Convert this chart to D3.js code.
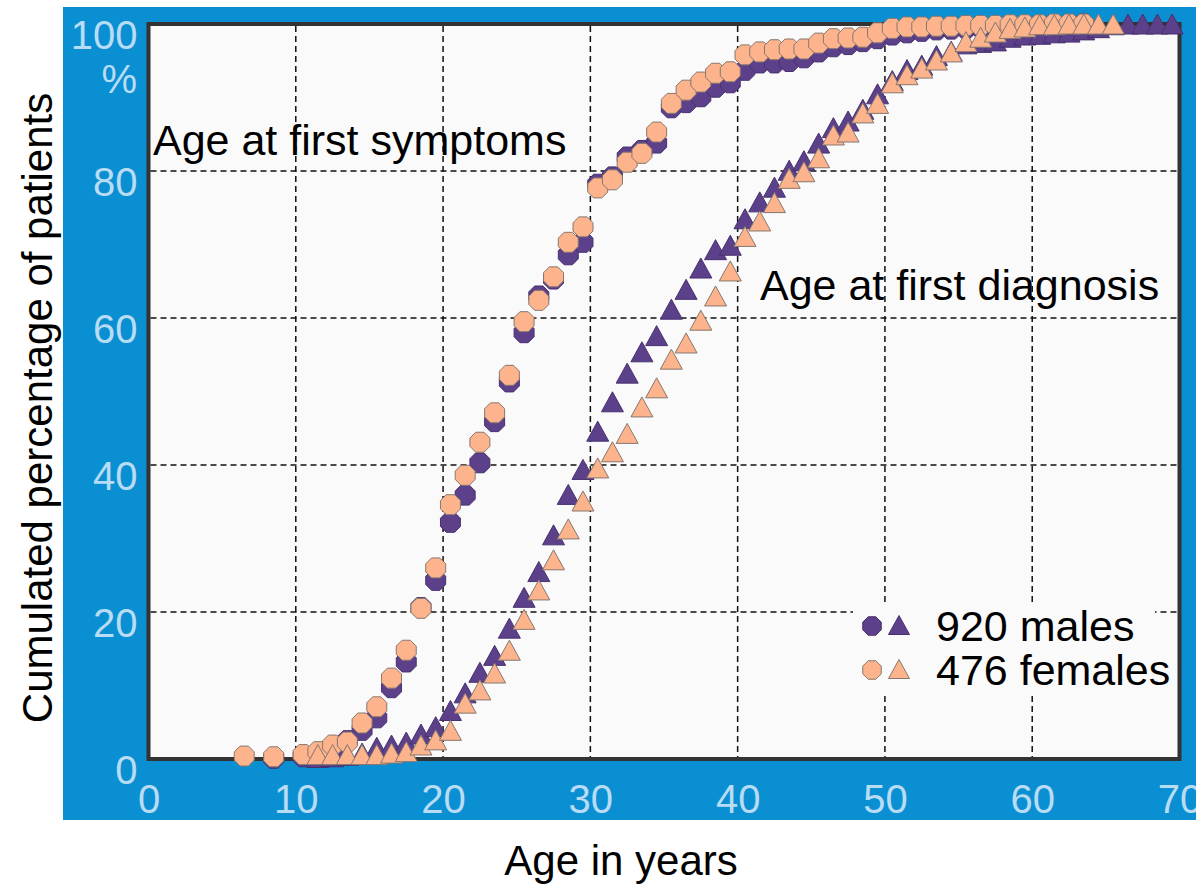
<!DOCTYPE html>
<html>
<head>
<meta charset="utf-8">
<script src="https://cdn.jsdelivr.net/npm/d3@7"></script>
<style>
  body { margin: 0; background: #fff; }
  text { font-family: "Liberation Sans", Arial, sans-serif; }
</style>
</head>
<body>
<div id="chart"></div>
<script>
// Ages (half-year bins) and cumulated percentages
const symptomAgesFemale = [6.5, 8.5, 10.5, 11.5, 12.5, 13.5, 14.5, 15.5, 16.5, 17.5, 18.5, 19.5,
  20.5, 21.5, 22.5, 23.5, 24.5, 25.5, 26.5, 27.5, 28.5, 29.5,
  30.5, 31.5, 32.5, 33.5, 34.5, 35.5, 36.5, 37.5, 38.5, 39.5,
  40.5, 41.5, 42.5, 43.5, 44.5, 45.5, 46.5, 47.5, 48.5, 49.5,
  50.5, 51.5, 52.5, 53.5, 54.5, 55.5, 56.5, 57.5, 58.5, 59.5,
  60.5, 61.5, 62.5, 63.5];
const symptomPctFemale = [0.4, 0.3, 0.6, 1.0, 1.9, 2.3, 4.9, 7.1, 11.0, 14.8, 20.5, 26.0,
  34.6, 38.6, 43.1, 47.1, 52.2, 59.5, 62.4, 65.6, 70.3, 72.4,
  77.7, 78.8, 81.2, 82.4, 85.3, 89.2, 91.0, 92.1, 93.3, 93.5,
  95.8, 96.2, 96.5, 96.6, 96.6, 97.4, 98.0, 98.1, 98.2, 98.8,
  99.4, 99.6, 99.6, 99.7, 99.7, 99.8, 99.8, 99.8, 99.9, 99.9,
  99.9, 100, 100, 100];

const symptomAgesMale = [8.5, 10.5, 11.5, 12.5, 13.5, 14.5, 15.5, 16.5, 17.5, 18.5, 19.5,
  20.5, 21.5, 22.5, 23.5, 24.5, 25.5, 26.5, 27.5, 28.5, 29.5,
  30.5, 31.5, 32.5, 33.5, 34.5, 35.5, 36.5, 37.5, 38.5, 39.5,
  40.5, 41.5, 42.5, 43.5, 44.5, 45.5, 46.5, 47.5, 48.5, 49.5,
  50.5, 51.5, 52.5, 53.5, 54.5, 55.5, 56.5, 57.5, 58.5, 59.5,
  60.5, 61.5, 62.5, 63.5];
const symptomPctMale = [0.1, 0.3, 0.6, 1.2, 2.5, 3.9, 5.6, 9.7, 13.2, 20.6, 24.3,
  32.2, 35.9, 40.3, 45.9, 51.3, 58.0, 63.0, 65.3, 68.6, 70.3,
  78.2, 79.2, 81.9, 82.8, 83.8, 88.6, 89.3, 90.1, 91.4, 92.0,
  93.7, 94.7, 94.7, 94.9, 95.4, 96.2, 96.9, 97.2, 97.6, 98.0,
  98.5, 98.8, 99.0, 99.2, 99.3, 99.4, 99.5, 99.6, 99.7, 99.8,
  99.8, 99.9, 99.9, 100];

const diagnosisAgesMale = [11.5, 12.5, 13.5, 14.5, 15.5, 16.5, 17.5, 18.5, 19.5,
  20.5, 21.5, 22.5, 23.5, 24.5, 25.5, 26.5, 27.5, 28.5, 29.5,
  30.5, 31.5, 32.5, 33.5, 34.5, 35.5, 36.5, 37.5, 38.5, 39.5,
  40.5, 41.5, 42.5, 43.5, 44.5, 45.5, 46.5, 47.5, 48.5, 49.5,
  50.5, 51.5, 52.5, 53.5, 54.5, 55.5, 56.5, 57.5, 58.5, 59.5,
  60.5, 61.5, 62.5, 63.5, 64.5, 65.5, 66.5, 67.5, 68.5, 69.5];
const diagnosisPctMale = [0.2, 0.3, 0.5, 0.8, 1.6, 1.9, 2.3, 3.4, 4.4,
  6.6, 9.0, 11.8, 14.1, 17.8, 22.0, 25.5, 30.5, 36.0, 39.4,
  44.6, 48.6, 52.5, 55.4, 57.6, 61.2, 63.9, 66.8, 69.3, 69.9,
  73.5, 75.8, 77.8, 80.1, 81.4, 83.8, 85.9, 86.8, 88.4, 90.5,
  92.3, 93.8, 94.4, 95.7, 96.3, 97.3, 97.5, 97.7, 98.2, 98.5,
  98.6, 98.8, 98.9, 99.2, 99.5, 99.9, 100, 100, 100, 100];

const diagnosisAgesFemale = [11.5, 12.5, 13.5, 14.5, 15.5, 16.5, 17.5, 18.5, 19.5,
  20.5, 21.5, 22.5, 23.5, 24.5, 25.5, 26.5, 27.5, 28.5, 29.5,
  30.5, 31.5, 32.5, 33.5, 34.5, 35.5, 36.5, 37.5, 38.5, 39.5,
  40.5, 41.5, 42.5, 43.5, 44.5, 45.5, 46.5, 47.5, 48.5, 49.5,
  50.5, 51.5, 52.5, 53.5, 54.5, 55.5, 56.5, 57.5, 58.5, 59.5,
  60.5, 61.5, 62.5, 63.5, 64.5, 65.5];
const diagnosisPctFemale = [0.6, 0.6, 0.6, 0.6, 0.6, 0.8, 1.0, 1.9, 2.6,
  3.9, 7.6, 9.4, 11.7, 14.8, 19.0, 23.0, 27.1, 31.3, 35.1,
  39.6, 41.8, 44.3, 47.9, 50.5, 54.4, 56.6, 59.7, 63.0, 66.4,
  71.1, 73.2, 75.7, 79.0, 79.9, 81.8, 84.9, 85.3, 87.9, 89.2,
  92.0, 93.1, 94.0, 95.1, 96.2, 97.6, 98.2, 98.9, 99.4, 99.6,
  99.9, 99.9, 100, 100, 100, 100];

const xTicks = [0, 10, 20, 30, 40, 50, 60, 70];
const yTicks = [0, 20, 40, 60, 80, 100];
const legendLabels = ["920 males", "476 females"];

// Colours
const purple = "#5c418a", purpleStroke = "#47306f";
const peach = "#fdb38c", peachStroke = "#86776f";
const panelBlue = "#0b8fd3", tickBlue = "#b8dcf3";

const width = 1196, height = 885;

const svg = d3.select("#chart")
  .append("svg")
  .attr("width", width)
  .attr("height", height);

const x = d3.scaleLinear().domain([0, 70]).range([148.5, 1179.5]);
const y = d3.scaleLinear().domain([0, 100]).range([759, 24]);

// marker paths
function octagon(r) {
  const p = d3.path();
  for (let i = 0; i < 8; i++) {
    const a = Math.PI / 8 + i * Math.PI / 4;
    const px = r * Math.cos(a), py = r * Math.sin(a);
    if (i === 0) p.moveTo(px, py); else p.lineTo(px, py);
  }
  p.closePath();
  return p.toString();
}
function triangle(w, h) {
  const p = d3.path();
  p.moveTo(0, -h / 2);
  p.lineTo(w / 2, h / 2);
  p.lineTo(-w / 2, h / 2);
  p.closePath();
  return p.toString();
}
const circlePath = octagon(10.8);
const triPath = triangle(22, 20);

// blue panel
svg.append("rect")
  .attr("x", 63).attr("y", 7)
  .attr("width", width - 63).attr("height", 813)
  .attr("fill", panelBlue);

// plot background + frame
svg.append("rect")
  .attr("x", x(0)).attr("y", y(100))
  .attr("width", x(70) - x(0)).attr("height", y(0) - y(100))
  .attr("fill", "#fafafa")
  .attr("stroke", "#333")
  .attr("stroke-width", 4);

// grid
svg.append("g")
  .selectAll("line")
  .data(xTicks.slice(1, -1))
  .join("line")
  .attr("x1", d => x(d)).attr("x2", d => x(d))
  .attr("y1", y(100) + 2).attr("y2", y(0) - 2)
  .attr("stroke", "#111")
  .attr("stroke-width", 1.5)
  .attr("stroke-dasharray", "6,4");

svg.append("g")
  .selectAll("line")
  .data(yTicks.slice(1, -1))
  .join("line")
  .attr("x1", x(0) + 2).attr("x2", x(70) - 2)
  .attr("y1", d => y(d)).attr("y2", d => y(d))
  .attr("stroke", "#111")
  .attr("stroke-width", 1.5)
  .attr("stroke-dasharray", "6,4");

// axes (labels only)
const yAxis = svg.append("g")
  .attr("transform", `translate(${x(0)},0)`)
  .call(d3.axisLeft(y).tickValues(yTicks).tickSize(0).tickPadding(11));
yAxis.select(".domain").remove();
yAxis.selectAll("text")
  .attr("dy", "0.6em")
  .style("font-size", "40px")
  .style("font-family", "'Liberation Sans', Arial, sans-serif")
  .attr("fill", tickBlue);

svg.append("text")
  .attr("x", 137).attr("y", 93)
  .attr("text-anchor", "end")
  .style("font-size", "40px")
  .attr("fill", tickBlue)
  .text("%");

const xAxis = svg.append("g")
  .attr("transform", `translate(0,${y(0)})`)
  .call(d3.axisBottom(x).tickValues(xTicks).tickSize(0).tickPadding(26));
xAxis.select(".domain").remove();
xAxis.selectAll("text")
  .style("font-size", "40px")
  .style("font-family", "'Liberation Sans', Arial, sans-serif")
  .attr("fill", tickBlue);

// axis titles
svg.append("text")
  .attr("transform", "rotate(-90)")
  .attr("x", -408).attr("y", 52)
  .attr("text-anchor", "middle")
  .style("font-size", "42px")
  .attr("fill", "#000")
  .text("Cumulated percentage of patients");

svg.append("text")
  .attr("x", 621).attr("y", 875)
  .attr("text-anchor", "middle")
  .style("font-size", "42px")
  .attr("fill", "#000")
  .text("Age in years");

// curve annotations
svg.append("text")
  .attr("x", 153).attr("y", 155)
  .style("font-size", "43px")
  .attr("fill", "#000")
  .text("Age at first symptoms");

svg.append("text")
  .attr("x", 760).attr("y", 300)
  .style("font-size", "43px")
  .attr("fill", "#000")
  .text("Age at first diagnosis");

// markers
function drawSeries(ages, pcts, path, fill, stroke) {
  svg.append("g")
    .selectAll("path")
    .data(d3.zip(ages, pcts))
    .join("path")
    .attr("transform", d => `translate(${x(d[0])},${y(d[1])})`)
    .attr("d", path)
    .attr("fill", fill)
    .attr("stroke", stroke)
    .attr("stroke-width", 1);
}
drawSeries(symptomAgesMale, symptomPctMale, circlePath, purple, purpleStroke);
drawSeries(symptomAgesFemale, symptomPctFemale, circlePath, peach, peachStroke);
drawSeries(diagnosisAgesMale, diagnosisPctMale, triPath, purple, purpleStroke);
drawSeries(diagnosisAgesFemale, diagnosisPctFemale, triPath, peach, peachStroke);

// legend
const legend = svg.append("g");
legend.append("rect")
  .attr("x", 853).attr("y", 604)
  .attr("width", 302).attr("height", 92)
  .attr("fill", "#fafafa");

const legendRows = [
  { label: legendLabels[0], fill: purple, stroke: purpleStroke },
  { label: legendLabels[1], fill: peach, stroke: peachStroke }
];
legendRows.forEach((r, i) => {
  const cy = 626 + i * 44;
  legend.append("path")
    .attr("transform", `translate(872,${cy})`)
    .attr("d", octagon(10))
    .attr("fill", r.fill).attr("stroke", r.stroke);
  legend.append("path")
    .attr("transform", `translate(899,${cy - 1})`)
    .attr("d", triangle(21, 19))
    .attr("fill", r.fill).attr("stroke", r.stroke);
  legend.append("text")
    .attr("x", 936).attr("y", cy + 15)
    .style("font-size", "43px")
    .attr("fill", "#000")
    .text(r.label);
});
</script>
</body>
</html>
